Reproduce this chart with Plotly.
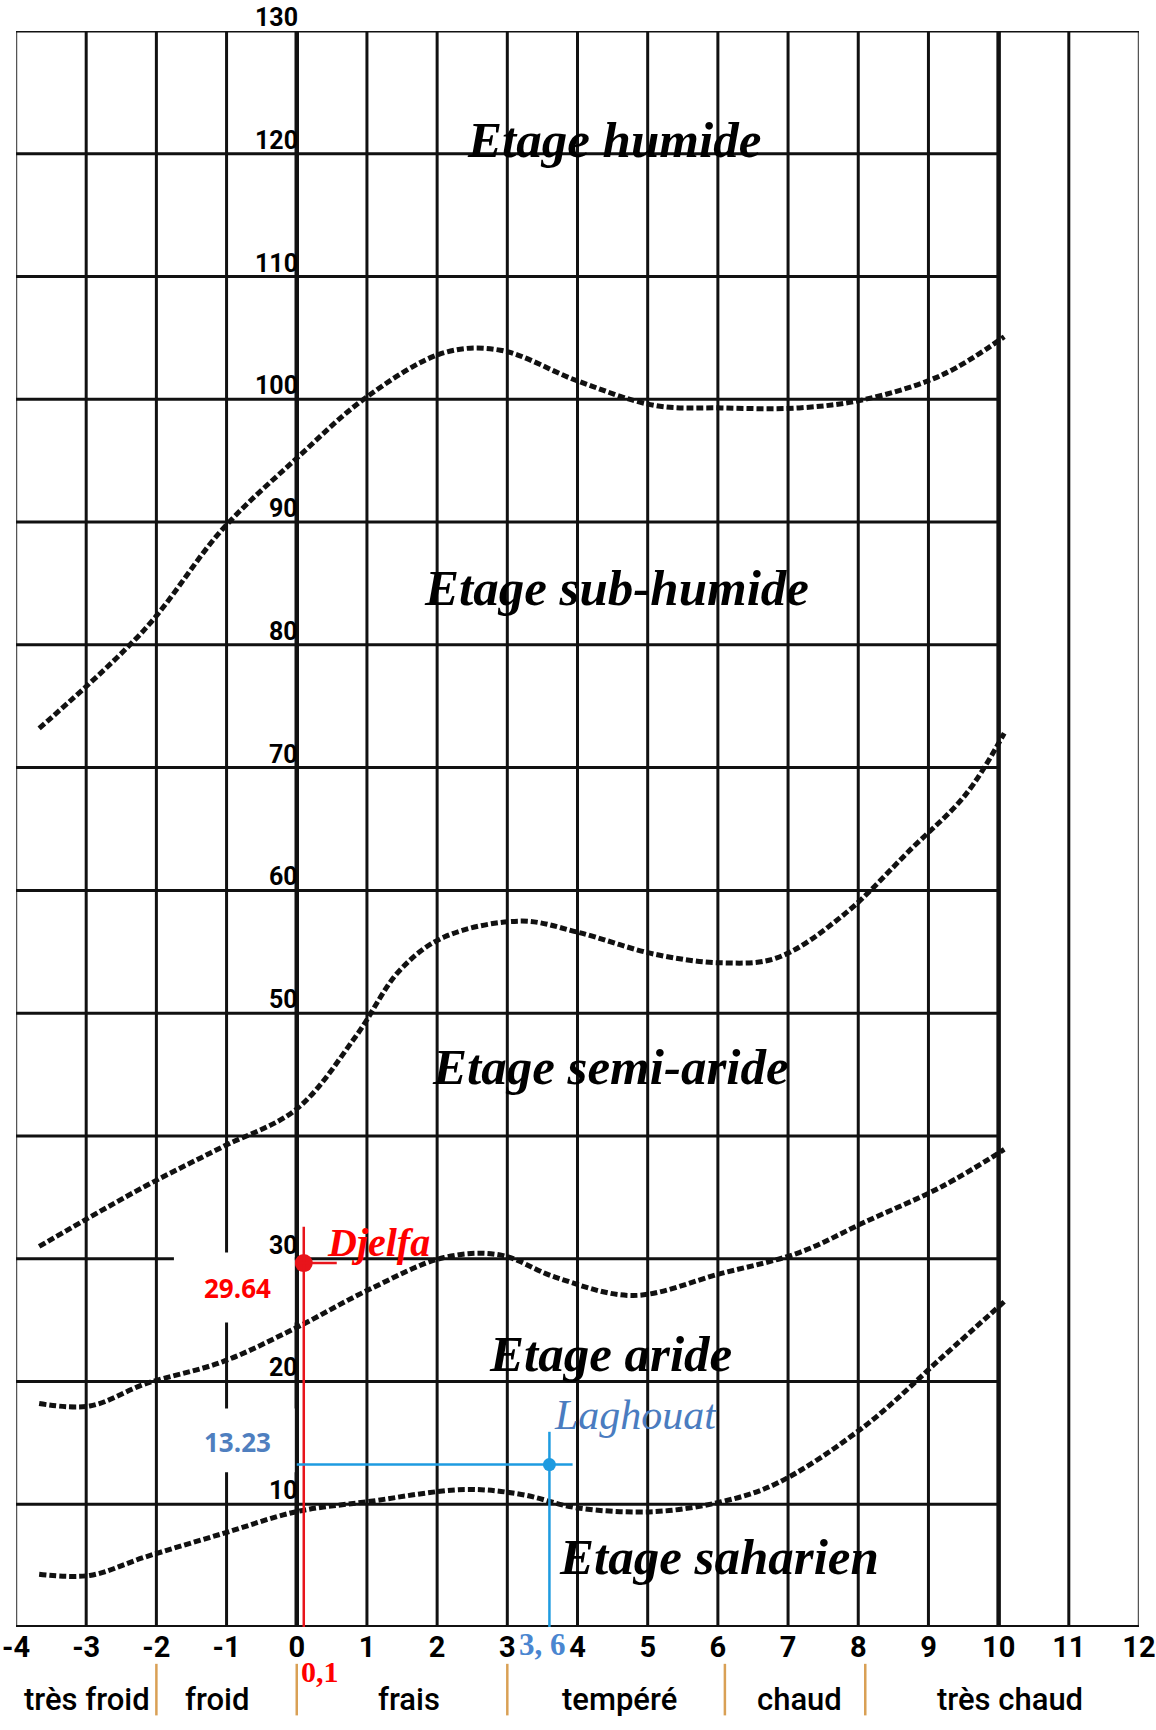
import plotly.graph_objects as go

# ---------------- data ----------------
x_ticks = list(range(-4, 13))
x_ticktext = [str(v) for v in x_ticks]
y_grid = list(range(0, 131, 10))
y_label_vals = [130, 120, 110, 100, 90, 80, 70, 60, 50, 30, 20, 10]

# boundary curves (Q2 vs m)
humid_x = [-3.67, -2.16, -1.06, 0.0, 1.0, 2.1, 2.9, 4.0, 5.1, 6.05, 7.16, 8.1, 9.2, 10.08]
humid_y = [73.2, 81.3, 89.4, 95.2, 100.2, 103.8, 104.0, 101.5, 99.5, 99.3, 99.3, 100.0, 102.0, 105.1]

subhum_x = [-3.67, -2.16, -1.06, 0.0, 0.84, 1.47, 2.1, 3.2, 4.0, 5.1, 6.05, 6.84, 7.79, 8.74, 9.53, 10.08]
subhum_y = [31.0, 35.9, 39.1, 42.2, 48.1, 53.5, 56.2, 57.5, 56.6, 54.8, 54.1, 54.5, 58.0, 63.3, 67.8, 72.8]

semi_x = [-3.67, -2.95, -2.16, -1.06, 0.0, 1.0, 2.1, 2.9, 3.68, 4.79, 6.05, 7.16, 8.1, 9.2, 10.08]
semi_y = [18.2, 18.0, 19.8, 21.6, 24.4, 27.4, 30.1, 30.3, 28.5, 27.0, 28.8, 30.5, 33.0, 35.9, 38.9]

arid_x = [-3.67, -2.95, -2.16, -1.06, 0.0, 1.0, 2.4, 3.2, 4.0, 5.1, 6.05, 6.84, 8.1, 9.2, 10.08]
arid_y = [4.3, 4.2, 5.7, 7.6, 9.4, 10.2, 11.2, 10.8, 9.7, 9.4, 10.2, 11.7, 16.4, 22.0, 26.5]

curves = [(humid_x, humid_y), (subhum_x, subhum_y), (semi_x, semi_y), (arid_x, arid_y)]

zone_names = ["Etage humide", "Etage sub-humide", "Etage semi-aride", "Etage aride", "Etage saharien"]
zone_x = [4.52, 4.55, 4.47, 4.47, 6.02]
zone_y = [121.1, 84.6, 45.6, 22.2, 5.7]

stations = ["Djelfa", "Laghouat"]
station_m = [0.1, 3.6]
station_q2 = [29.64, 13.23]
station_m_text = ["0,1", "3, 6"]
station_q2_text = ["29.64", "13.23"]

thermal_classes = ["très froid", "froid", "frais", "tempéré", "chaud", "très chaud"]
thermal_x = [-2.99, -1.14, 1.6, 4.6, 7.16, 10.16]
thermal_sep = [-2, 0, 3, 6.1, 8.1, 12.05]

# ---------------- figure ----------------
RED = "#e8141b"
BLUE = "#1e9be0"
STEEL = "#4a7cc0"
Y_MAX = 130.0


def yp(v):
    """value on the Q2 scale (may be below 0) -> paper fraction"""
    return v / Y_MAX


fig = go.Figure()

shapes = []
# vertical grid lines
for v in x_ticks:
    w = 3
    col = "#111"
    if v in (0, 10):
        w = 4.5
    if v in (-4, 12):
        w = 2.5
        col = "#555"
    shapes.append(dict(type="line", xref="x", yref="y", x0=v, x1=v, y0=0, y1=130,
                       line=dict(color=col, width=w), layer="below"))
# horizontal grid lines (stop at m = 10)
for g in y_grid:
    x_end = 12 if g in (0, 130) else 10
    w = 4 if g == 0 else 3
    shapes.append(dict(type="line", xref="x", yref="y", x0=-4, x1=x_end, y0=g, y1=g,
                       line=dict(color="#111", width=w), layer="below"))

# white label boxes
for yv in [(24.8, 30.5), (12.6, 17.8)]:
    shapes.append(dict(type="rect", xref="x", yref="y", x0=-1.75, x1=-0.03, y0=yv[0], y1=yv[1],
                       fillcolor="white", line=dict(width=0), layer="above"))

# station guide lines
shapes.append(dict(type="line", xref="x", yref="y", x0=station_m[0], x1=station_m[0], y0=0, y1=32.6,
                   line=dict(color=RED, width=2.5), layer="above"))
shapes.append(dict(type="line", xref="x", yref="y", x0=0.0, x1=0.57, y0=station_q2[0], y1=station_q2[0],
                   line=dict(color=RED, width=2.5), layer="above"))
shapes.append(dict(type="line", xref="x", yref="y", x0=station_m[1], x1=station_m[1], y0=0, y1=15.9,
                   line=dict(color=BLUE, width=2.5), layer="above"))
shapes.append(dict(type="line", xref="x", yref="y", x0=0.0, x1=3.93, y0=station_q2[1], y1=station_q2[1],
                   line=dict(color=BLUE, width=2.5), layer="above"))

# thermal class separators (below axis)
for s in thermal_sep:
    shapes.append(dict(type="line", xref="x", yref="paper", x0=s, x1=s, y0=yp(-3.0), y1=yp(-7.2),
                       line=dict(color="#d9a055", width=2.5), layer="above"))

for cx, cy in curves:
    fig.add_trace(go.Scatter(x=cx, y=cy, mode="lines",
                             line=dict(color="#111", width=5, dash="7px,3px", shape="spline", smoothing=1.0),
                             hoverinfo="skip", showlegend=False))

fig.add_trace(go.Scatter(x=[station_m[0]], y=[station_q2[0]], mode="markers",
                         marker=dict(color=RED, size=18), showlegend=False))
fig.add_trace(go.Scatter(x=[station_m[1]], y=[station_q2[1]], mode="markers",
                         marker=dict(color=BLUE, size=13), showlegend=False))

annotations = []
SERIF = "Liberation Serif, Times New Roman, serif"
NARROW = "Roboto, Liberation Sans Narrow, Arial Narrow, sans-serif"
for name, zx, zy in zip(zone_names, zone_x, zone_y):
    annotations.append(dict(x=zx, y=zy, xref="x", yref="y", text=name, showarrow=False,
                            xanchor="center", yanchor="middle",
                            font=dict(family=SERIF, size=51, color="#000", weight="bold", style="italic")))

for yv in y_label_vals:
    annotations.append(dict(x=0.05, y=yv, xref="x", yref="y", text=str(yv), showarrow=False,
                            xanchor="right", yanchor="bottom", yshift=-3,
                            font=dict(family=NARROW, size=25, color="#000", weight="bold")))

annotations.append(dict(x=1.17, y=31.3, text=stations[0], showarrow=False, xanchor="center", yanchor="middle",
                        font=dict(family=SERIF, size=40, color="#ff0000", weight="bold", style="italic")))
annotations.append(dict(x=4.82, y=17.25, text=stations[1], showarrow=False, xanchor="center", yanchor="middle",
                        font=dict(family=SERIF, size=42, color=STEEL, style="italic")))
annotations.append(dict(x=-0.85, y=27.6, text=station_q2_text[0], showarrow=False, xanchor="center", yanchor="middle",
                        font=dict(family="Open Sans, sans-serif", size=26, color="#ff0000", weight="bold")))
annotations.append(dict(x=-0.85, y=15.1, text=station_q2_text[1], showarrow=False, xanchor="center", yanchor="middle",
                        font=dict(family="Open Sans, sans-serif", size=26, color="#4f7fbf", weight="bold")))
annotations.append(dict(x=0.33, y=yp(-3.6), xref="x", yref="paper", text=station_m_text[0], showarrow=False,
                        xanchor="center", yanchor="middle",
                        font=dict(family=SERIF, size=30, color="#ff0000", weight="bold")))
annotations.append(dict(x=3.5, y=yp(-1.4), xref="x", yref="paper", text=station_m_text[1], showarrow=False,
                        xanchor="center", yanchor="middle",
                        font=dict(family=SERIF, size=31, color="#4a86d0", weight="bold")))

for name, tx in zip(thermal_classes, thermal_x):
    annotations.append(dict(x=tx, y=yp(-5.9), xref="x", yref="paper", text=name, showarrow=False,
                            xanchor="center", yanchor="middle",
                            font=dict(family=NARROW, size=31, color="#000", weight=500)))

fig.update_layout(
    width=1156, height=1730,
    margin=dict(l=16, r=17, t=31, b=103, autoexpand=False),
    paper_bgcolor="white", plot_bgcolor="white",
    shapes=shapes, annotations=annotations,
    xaxis=dict(range=[-4, 12], showgrid=False, zeroline=False, showline=False, automargin=False,
               tickvals=x_ticks, ticktext=x_ticktext, ticks="", ticklabeloverflow="allow",
               tickfont=dict(family=NARROW, size=29, color="#000", weight="bold")),
    yaxis=dict(range=[0, 130], showgrid=False, zeroline=False, showline=False, automargin=False,
               showticklabels=False),
    showlegend=False,
)

fig.write_html("out.html")
